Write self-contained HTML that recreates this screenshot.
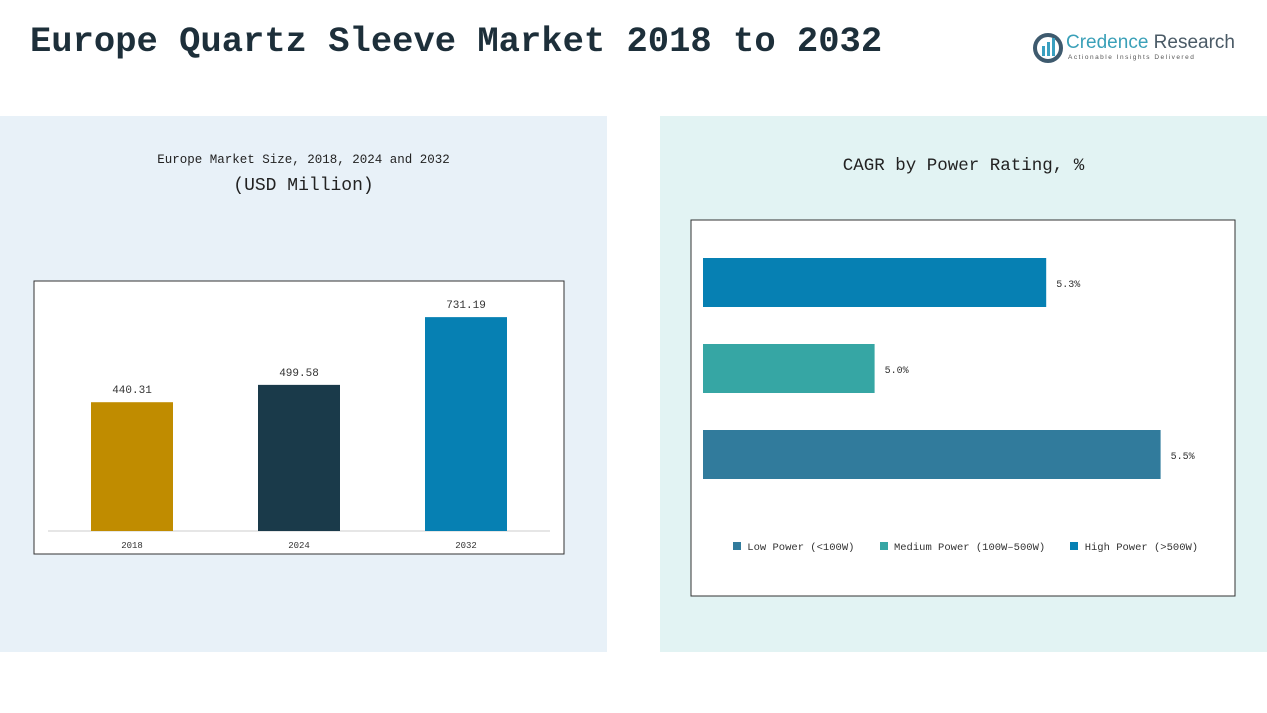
<!DOCTYPE html>
<html><head><meta charset="utf-8"><style>
body{margin:0;width:1267px;height:713px;background:#fff;position:relative;overflow:hidden;font-family:"Liberation Mono","Noto Sans CJK SC",monospace;}
.abs{position:absolute;}
</style></head><body>
<div class="abs" style="left:0;top:116px;width:607px;height:536px;background:#e8f1f8;"></div>
<div class="abs" style="left:660px;top:116px;width:607px;height:536px;background:#e2f3f3;"></div>
<div class="abs" style="left:30px;top:21px;font-size:35.5px;font-weight:bold;color:#1d2f3a;font-family:'Liberation Mono',monospace;white-space:nowrap;">Europe Quartz Sleeve Market 2018 to 2032</div>
<div class="abs" style="left:1032px;top:30px;width:210px;height:40px;">
<svg width="32" height="32" style="position:absolute;left:0;top:2px"><circle cx="16" cy="16" r="13" fill="none" stroke="#3e5a6e" stroke-width="4"/><rect x="10" y="14" width="3" height="10" fill="#3aa0c0"/><rect x="15" y="10" width="3" height="14" fill="#3aa0c0"/><rect x="20" y="6" width="3" height="18" fill="#3aa0c0"/></svg>
<div class="abs" style="left:34px;top:2px;font-family:'Liberation Sans',sans-serif;font-size:19px;color:#3aa0b8;white-space:nowrap">Credence <span style="color:#4a5a66">Research</span></div>
<div class="abs" style="left:36px;top:24px;font-family:'Liberation Sans',sans-serif;font-size:6.5px;letter-spacing:1.5px;color:#555;white-space:nowrap">Actionable Insights Delivered</div>
</div>
<div class="abs" style="left:0;top:153px;width:607px;text-align:center;font-size:12.5px;color:#222;">Europe Market Size, 2018, 2024 and 2032</div>
<div class="abs" style="left:0;top:176px;width:607px;text-align:center;font-size:18px;color:#222;">(USD Million)</div>
<div class="abs" style="left:660px;top:156px;width:607px;text-align:center;font-size:17.5px;color:#222;">CAGR by Power Rating, %</div>
<svg class="abs" id="lc" style="left:0;top:0" width="1267" height="713"></svg>
<div class="abs" style="left:733px;top:542px;font-size:10.5px;color:#333;white-space:nowrap;">
<span><span style="display:inline-block;width:8px;height:8px;background:#317b9c"></span> Low Power (&lt;100W)</span>&nbsp;&nbsp;&nbsp;
<span><span style="display:inline-block;width:8px;height:8px;background:#36a6a4"></span> Medium Power (100W–500W)</span>&nbsp;&nbsp;&nbsp;
<span><span style="display:inline-block;width:8px;height:8px;background:#0680b3"></span> High Power (&gt;500W)</span>
</div>
<script>
const years=["2018","2024","2032"];
const sizes=[440.31,499.58,731.19];
const sizeColors=["#c08c00","#1a3a4a","#0680b3"];
const segments=["High Power (>500W)","Medium Power (100W-500W)","Low Power (<100W)"];
const cagr=[5.3,5.0,5.5];
const segColors=["#0680b3","#36a6a4","#317b9c"];
const NS="http://www.w3.org/2000/svg";
const svg=document.getElementById('lc');
function el(t,a){const e=document.createElementNS(NS,t);for(const k in a)e.setAttribute(k,a[k]);svg.appendChild(e);return e;}
let f=el('rect',{x:34,y:281,width:530,height:273,fill:'#fff',stroke:'#333','stroke-width':1});

let f2=el('rect',{x:691,y:220,width:544,height:376,fill:'#fff',stroke:'#333','stroke-width':1});

const base=531,ky=v=>base-v*0.2925;
let ax=el('line',{x1:48,x2:550,y1:base,y2:base,stroke:'#ccc'});

years.forEach((y,i)=>{const x=91+i*167;
 const r=el('rect',{x:x,y:ky(sizes[i]),width:82,height:base-ky(sizes[i]),fill:sizeColors[i]});
 
 const t=el('text',{x:x+41,y:ky(sizes[i])-9,'text-anchor':'middle','font-size':11,fill:'#333','font-family':'Liberation Mono,monospace'});t.textContent=sizes[i].toFixed(2);
 
 const l=el('text',{x:x+41,y:548,'text-anchor':'middle','font-size':9,fill:'#333','font-family':'Liberation Mono,monospace'});l.textContent=y;
 
});
const x0=703,kx=v=>x0+(v-4.7)*572;
segments.forEach((s,i)=>{const y=258+i*86;
 const r=el('rect',{x:x0,y:y,width:kx(cagr[i])-x0,height:49,fill:segColors[i]});
 
 const t=el('text',{x:kx(cagr[i])+10,y:y+29,'font-size':10,fill:'#333','font-family':'Liberation Mono,monospace'});t.textContent=cagr[i].toFixed(1)+'%';
 
});
</script>
</body></html>
